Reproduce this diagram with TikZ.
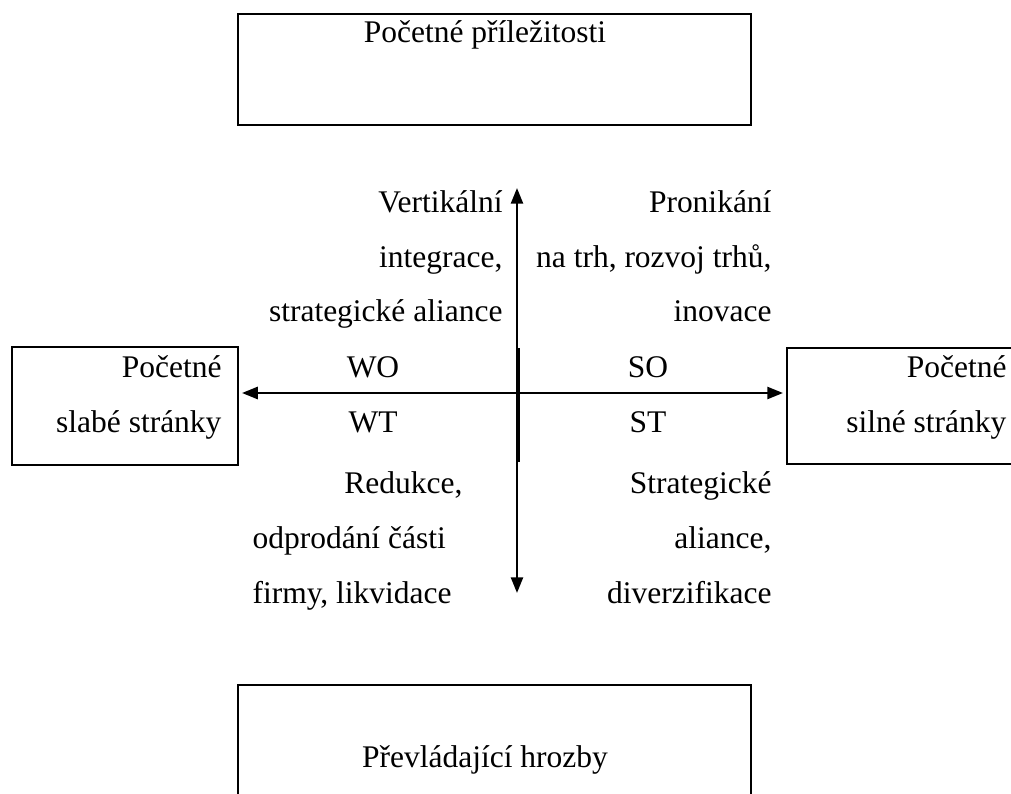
\documentclass[tikz,border=0pt]{standalone}
\usepackage{fontspec}
\setmainfont{Liberation Serif}
\usetikzlibrary{arrows.meta}
\usetikzlibrary{positioning}

\begin{document}
\begin{tikzpicture}[
	x=0.381pt, y=-0.381pt,
  > = {Triangle[length=6pt,width=4.6pt]},
  every node/.style = {inner sep=0pt, font=\fontsize{12}{20.95}\selectfont},
  box/.style = {draw, line width=0.9pt},
  axis/.style = {line width=0.9pt}
  ]
	\useasboundingbox (0,0) rectangle (1011,794);
	\clip (0,0) rectangle (1011,794);

	\coordinate (o) at (517,393);
	\coordinate (ntip) at (517,188);
	\coordinate (stip) at (517,593);
	\coordinate (wtip) at (242,393);
	\coordinate (etip) at (783,393);

	% boxes
	\draw[box] (238,14) rectangle (751,125);
	\draw[box] (12,347) rectangle (238,465);
	\draw[box] (787,348) rectangle (1030,464);
	\draw[box] (238,685) rectangle (751,830);

	% base anchor = baseline of the last line
	\node[anchor=base] (opp) at (485,43) {Početné příležitosti};
	\node[anchor=base] (thr) at (485,767) {Převládající hrozby};
	\node[anchor=base east, align=right] (weak) at (222,432) {Početné\\slabé stránky};
	\node[anchor=base east, align=right] (strong) at (1007,432) {Početné\\silné stránky};

	% axes
	\draw[axis,->] (o) -- (ntip);
	\draw[axis,->] (o) -- (stip);
	\draw[axis,->] (o) -- (wtip);
	\draw[axis,->] (o) -- (etip);
	\draw[axis] (519,348) -- (519,462);

	% quadrants
	\node[anchor=base east, align=right] (wotxt) at (503,322) {Vertikální\\integrace,\\strategické aliance};
	\node[anchor=base east, align=right] (sotxt) at (772,322) {Pronikání\\na trh, rozvoj trhů,\\inovace};
	\node[anchor=base] (wo) at (373,377) {WO};
	\node[anchor=base] (so) at (648,377) {SO};
	\node[anchor=base] (wt) at (373,432) {WT};
	\node[anchor=base] (st) at (648,432) {ST};
	\node[anchor=base east] (wttxt) at (463,493) {Redukce,};
	\node[anchor=base west, align=left] (wttxtb) at (252,603) {odprodání části\\firmy, likvidace};
	\node[anchor=base east, align=right] (sttxt) at (772,603) {Strategické\\aliance,\\diverzifikace};

\end{tikzpicture}
\end{document}
